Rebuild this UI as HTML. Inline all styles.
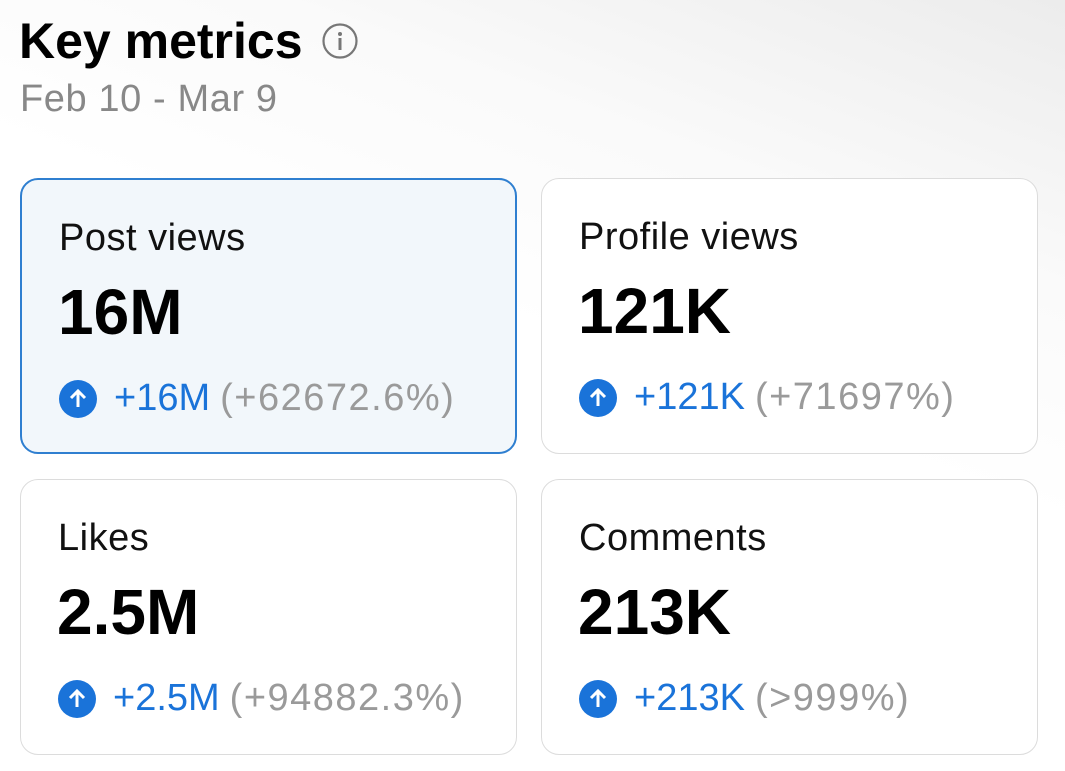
<!DOCTYPE html>
<html><head><meta charset="utf-8"><style>
body{margin:0;width:1065px;height:771px;overflow:hidden;background:linear-gradient(200deg,#ececec 0%,#fafafa 25%,#fff 45%);font-family:"Liberation Sans",sans-serif;position:relative}
.a{position:absolute;white-space:nowrap}
.card{position:absolute;width:497px;height:276px;border:1.5px solid #dcdcdc;border-radius:18px;background:#fff;box-sizing:border-box}
.card.sel{background:#f2f7fb;border:2px solid #2f7fd0}
.lbl{position:absolute;left:37px;top:37px;font-size:38px;letter-spacing:0.5px;color:#111}
.val{position:absolute;left:36px;top:95px;font-size:64px;font-weight:bold;color:#000}
.chg{position:absolute;left:37px;top:197px;font-size:38px;display:flex;align-items:center}
.ic{width:38px;height:38px;border-radius:50%;background:#1a73d9;margin-right:17px;display:flex;align-items:center;justify-content:center}
.up{color:#1a73d9;margin-right:10px}.pc{color:#9a9a9a;letter-spacing:1.5px}
</style></head><body>
<div class="a" style="left:19px;top:12px;font-size:50px;font-weight:bold;color:#000">Key metrics</div>
<svg class="a" style="left:321px;top:22px" width="38" height="38"><circle cx="19" cy="19" r="16.5" fill="none" stroke="#777" stroke-width="2.2"/><circle cx="19" cy="12" r="2" fill="#777"/><rect x="17.5" y="16" width="3" height="12" fill="#777"/></svg>
<div class="a" style="left:20px;top:78px;font-size:38px;letter-spacing:0.6px;color:#888">Feb 10 - Mar 9</div>

<div class="card sel" style="left:20px;top:178px">
<div class="lbl">Post views</div>
<div class="val">16M</div>
<div class="chg"><div class="ic"><svg width="22" height="22"><path d="M11 19V4M4 10l7-7 7 7" fill="none" stroke="#fff" stroke-width="3"/></svg></div><span class="up">+16M</span><span class="pc">(+62672.6%)</span></div>
</div>
<div class="card" style="left:541px;top:178px">
<div class="lbl">Profile views</div>
<div class="val">121K</div>
<div class="chg"><div class="ic"><svg width="22" height="22"><path d="M11 19V4M4 10l7-7 7 7" fill="none" stroke="#fff" stroke-width="3"/></svg></div><span class="up">+121K</span><span class="pc">(+71697%)</span></div>
</div>
<div class="card" style="left:20px;top:479px">
<div class="lbl">Likes</div>
<div class="val">2.5M</div>
<div class="chg"><div class="ic"><svg width="22" height="22"><path d="M11 19V4M4 10l7-7 7 7" fill="none" stroke="#fff" stroke-width="3"/></svg></div><span class="up">+2.5M</span><span class="pc">(+94882.3%)</span></div>
</div>
<div class="card" style="left:541px;top:479px">
<div class="lbl">Comments</div>
<div class="val">213K</div>
<div class="chg"><div class="ic"><svg width="22" height="22"><path d="M11 19V4M4 10l7-7 7 7" fill="none" stroke="#fff" stroke-width="3"/></svg></div><span class="up">+213K</span><span class="pc">(&gt;999%)</span></div>
</div>
</body></html>
